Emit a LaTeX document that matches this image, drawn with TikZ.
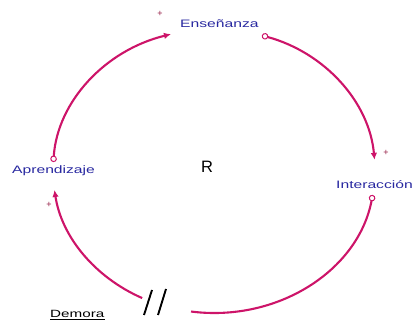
\documentclass[tikz,border=0pt]{standalone}
\usepackage{fontspec}
\setmainfont{Liberation Sans}
\newfontfamily\lblfont[FakeStretch=1.45]{Liberation Sans}
\usetikzlibrary{arrows.meta}
\definecolor{loopc}{RGB}{205,20,105}
\definecolor{lblc}{RGB}{40,40,160}
\definecolor{signc}{RGB}{150,30,70}
\begin{document}
\begin{tikzpicture}[x=1pt,y=1pt,
  link/.style={draw=loopc, line width=2.1pt},
  var/.style={font=\lblfont\fontsize{10.8}{12}\selectfont, text=lblc, inner sep=0pt, anchor=base west},
  polarity/.style={font=\fontsize{9}{10}\selectfont, text=signc, inner sep=0pt},
  head/.style={-{Latex[length=7pt,width=6.5pt]}},
  ohead/.style={{Circle[open,length=6.5pt,line width=1pt]}-{Latex[length=7pt,width=6.5pt]}},
  otail/.style={{Circle[open,length=6.5pt,line width=1pt]}-},
]
\useasboundingbox (0,0) rectangle (415,326);
\coordinate (C) at (214,155);
% text nodes
\node[var] (ens) at (180,298) {Enseñanza};
\node[var] (int) at (336,137) {Interacción};
\node[var] (apr) at (12,152) {Aprendizaje};
\node[font=\fontsize{16.5}{18}\selectfont, inner sep=0pt, anchor=base] (R) at (207,153) {R};
\node[font=\lblfont\fontsize{10.5}{12}\selectfont, inner sep=0pt, anchor=base west] (dem) at (50,8) {Demora};
\draw[line width=0.7pt] (dem.south west) ++(0,-1.5) coordinate (u1) -- (u1 -| dem.south east);
% points on the loop
\path (C) ++(176.4:161 and 142) coordinate (a1);
\path (C) ++(72.7:161 and 142) coordinate (b1);
\path (C) ++(-9.7:161 and 142) coordinate (c1);
\path (C) ++(-116.5:161 and 142) coordinate (d1);
% arcs
\draw[link, ohead] (a1) arc[start angle=176.4, end angle=105.5, x radius=161, y radius=142];
\draw[link, ohead] (b1) arc[start angle=72.7, end angle=4.5, x radius=161, y radius=142];
\draw[link, otail] (c1) arc[start angle=-9.7, end angle=-98.2, x radius=161, y radius=142];
\draw[link, head] (d1) arc[start angle=-116.5, end angle=-172.3, x radius=161, y radius=142];
% delay mark
\draw[line width=1.9pt] (144,11) -- (152,36);
\draw[line width=1.9pt] (158,11) -- (166,37);
% polarities
\node[polarity] (p1) at (160,312) {+};
\node[polarity] (p2) at (386,173) {+};
\node[polarity] (p3) at (49,121) {+};
\end{tikzpicture}
\end{document}
